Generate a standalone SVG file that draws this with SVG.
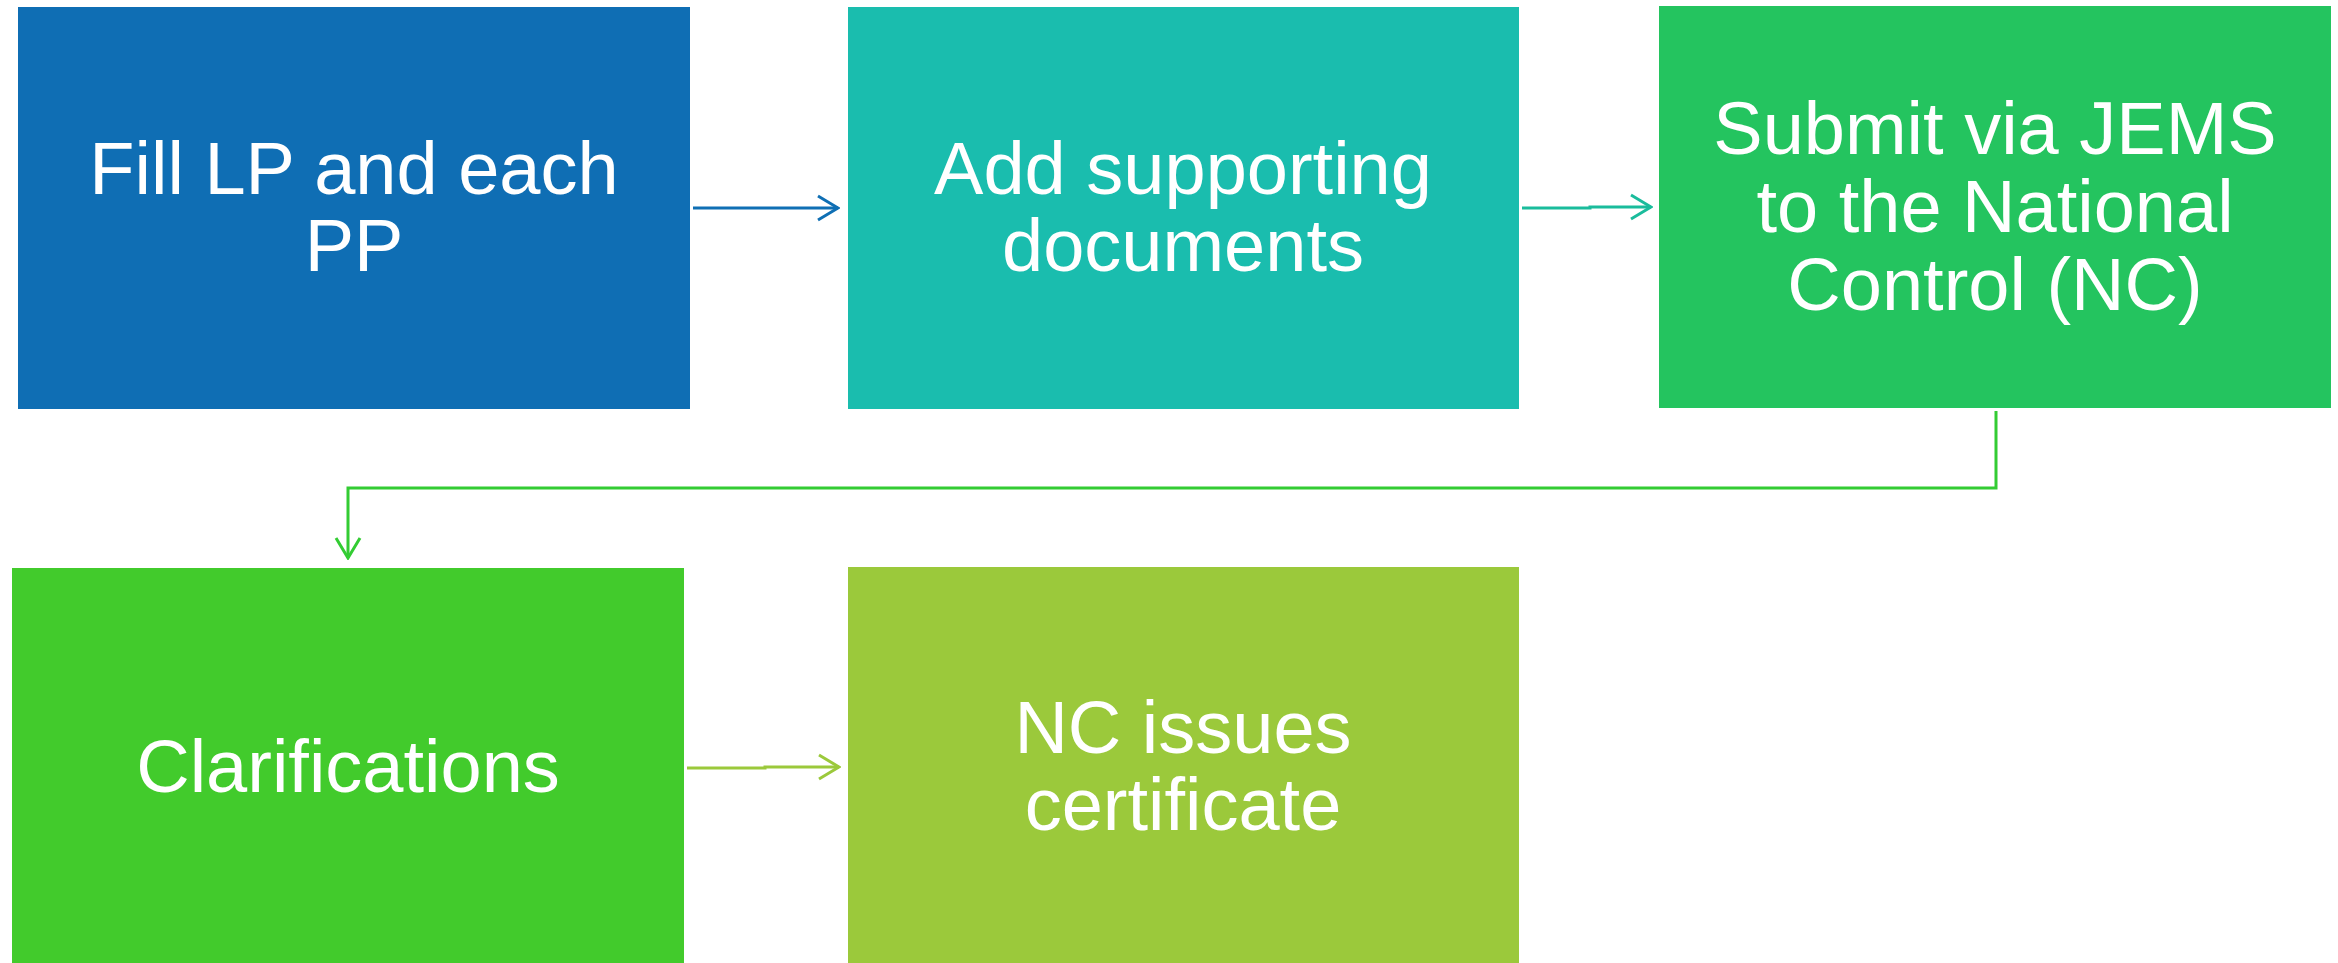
<svg xmlns="http://www.w3.org/2000/svg" width="2338" height="963" viewBox="0 0 2338 963">
<defs>
<style>
.t{font-family:"Liberation Sans",Arial,sans-serif;font-size:74px;fill:#ffffff;text-anchor:middle}
.c{fill:none;stroke-width:3}
</style>
<marker id="a1" markerWidth="24" markerHeight="30" refX="22" refY="15" orient="auto" markerUnits="userSpaceOnUse"><path d="M2,3 L22,15 L2,27" fill="none" stroke="#0F6FB4" stroke-width="3"/></marker>
<marker id="a2" markerWidth="24" markerHeight="30" refX="22" refY="15" orient="auto" markerUnits="userSpaceOnUse"><path d="M2,3 L22,15 L2,27" fill="none" stroke="#1ABC9C" stroke-width="3"/></marker>
<marker id="a3" markerWidth="24" markerHeight="30" refX="22" refY="15" orient="auto" markerUnits="userSpaceOnUse"><path d="M2,3 L22,15 L2,27" fill="none" stroke="#33CC33" stroke-width="3"/></marker>
<marker id="a4" markerWidth="24" markerHeight="30" refX="22" refY="15" orient="auto" markerUnits="userSpaceOnUse"><path d="M2,3 L22,15 L2,27" fill="none" stroke="#9BC93B" stroke-width="3"/></marker>
</defs>
<rect width="2338" height="963" fill="#ffffff"/>
<g id="node1">
<rect x="18" y="7" width="672" height="402" fill="#0F6EB4"/>
<text class="t" x="354" y="194">Fill LP and each</text>
<text class="t" x="354" y="271">PP</text>
</g>
<g id="node2">
<rect x="848" y="7" width="671" height="402" fill="#1ABDAE"/>
<text class="t" x="1183" y="194">Add supporting</text>
<text class="t" x="1183" y="271">documents</text>
</g>
<g id="node3">
<rect x="1659" y="6" width="672" height="402" fill="#24C45F"/>
<text class="t" x="1995" y="154">Submit via JEMS</text>
<text class="t" x="1995" y="232">to the National</text>
<text class="t" x="1995" y="310">Control (NC)</text>
</g>
<g id="node4">
<rect x="12" y="568" width="672" height="395" fill="#42CB2C"/>
<text class="t" x="348" y="792">Clarifications</text>
</g>
<g id="node5">
<rect x="848" y="567" width="671" height="396" fill="#9BC93B"/>
<text class="t" x="1183" y="753">NC issues</text>
<text class="t" x="1183" y="830">certificate</text>
</g>
<g id="connectors">
<path class="c" stroke="#0F6FB4" d="M693,208 L838,208" marker-end="url(#a1)"/>
<path class="c" stroke="#1ABC9C" d="M1522,208 L1590,208 L1590,207 L1651,207" marker-end="url(#a2)"/>
<path class="c" stroke="#33CC33" d="M1996,411 L1996,488 L348,488 L348,558" marker-end="url(#a3)"/>
<path class="c" stroke="#9BC93B" d="M687,768 L765,768 L765,767 L839,767" marker-end="url(#a4)"/>
</g>
</svg>
